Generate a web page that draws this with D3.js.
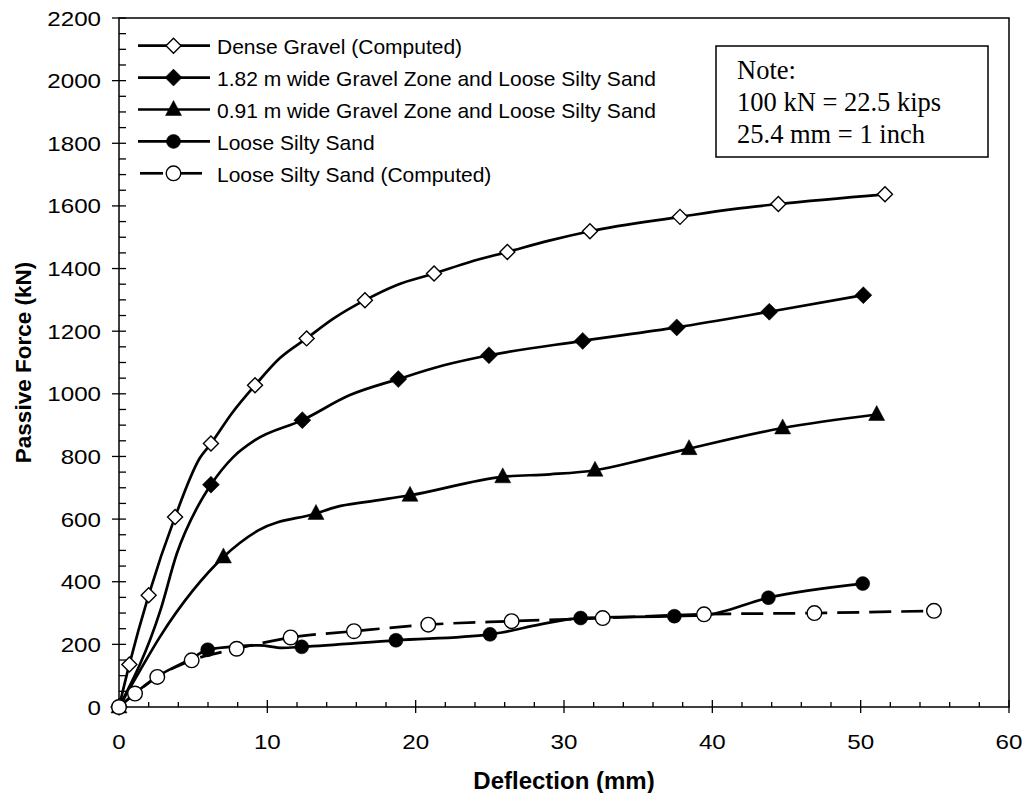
<!DOCTYPE html>
<html>
<head>
<meta charset="utf-8">
<script src="https://cdn.jsdelivr.net/npm/d3@7"></script>
<style>
  html, body { margin: 0; padding: 0; background: #fff; }
  svg { display: block; }
  text { font-family: Arial, "Liberation Sans", sans-serif; fill: #000; }
</style>
</head>
<body>
<svg id="chart" width="1023" height="793"></svg>
<script>
// ---------------- DATA ----------------
// each point: [deflection (mm), passive force (kN), hasMarker (1/0)]
const denseGravel = [
  [0,0,1],[0.7,136,1],[2.0,357,1],[3.78,607,1],[5.45,795,0],[6.2,841,1],
  [7.6,937,0],[9.17,1027,1],[10.85,1114,0],[12.65,1177,1],[14.45,1240,0],[16.58,1299,1],
  [18.7,1347,0],[21.24,1384,1],[23.66,1421,0],[26.18,1453,1],[29.0,1489,0],[31.75,1519,1],
  [37.82,1565,1],[41.4,1590,0],[44.45,1606,1],[51.64,1637,1]
];
const gravel182 = [
  [0,0,1],[2.8,310,0],[3.9,490,0],[5.35,644,0],[6.2,710,1],[7.7,798,0],[9.17,852,0],
  [12.36,916,1],[15.57,996,0],[18.83,1047,1],[21.9,1091,0],[24.94,1123,1],[31.26,1169,1],
  [37.6,1212,1],[43.84,1262,1],[50.18,1315,1]
];
const gravel091 = [
  [0,0,1],[1.42,117,0],[2.76,224,0],[5.0,373,0],[7.04,479,1],[9.39,564,0],[13.28,618,1],
  [14.68,639,0],[16.7,655,0],[19.62,676,1],[25.87,735,1],[29.06,743,0],[32.09,756,1],
  [35.6,793,0],[38.43,825,1],[44.74,891,1],[51.08,934,1]
];
const looseSand = [
  [0,0,1],[2.54,96,0],[4.9,155,0],[5.98,183,1],[7.93,194,0],[9.5,197,0],[11.0,189,0],
  [12.32,192,1],[18.67,213,1],[25.01,232,1],[25.8,238,0],[28.4,264,0],[31.12,284,1],
  [37.44,290,1],[39.4,293,0],[43.78,349,1],[50.14,394,1]
];
const looseSandComputed = [
  [0,0,1],[1.08,43,1],[2.58,96,1],[4.9,149,1],[7.93,186,1],[11.57,222,1],[15.84,242,1],
  [20.85,263,1],[26.47,274,1],[32.61,284,1],[39.44,296,1],[46.88,300,1],[54.94,307,1]
];
const seriesNames = [
  "Dense Gravel (Computed)",
  "1.82 m wide Gravel Zone and Loose Silty Sand",
  "0.91 m wide Gravel Zone and Loose Silty Sand",
  "Loose Silty Sand",
  "Loose Silty Sand (Computed)"
];
const seriesMarkers = ["diamondOpen","diamondFilled","triangle","circleFilled","circleOpen"];
const seriesDashed = [false,false,false,false,true];
const xTicks = [0,10,20,30,40,50,60];
const yTicks = [0,200,400,600,800,1000,1200,1400,1600,1800,2000,2200];
const xTitle = "Deflection (mm)";
const yTitle = "Passive Force (kN)";
const noteLines = ["Note:", "100 kN = 22.5 kips", "25.4 mm = 1 inch"];

const allSeries = [denseGravel, gravel182, gravel091, looseSand, looseSandComputed];

// ---------------- LAYOUT ----------------
const svg = d3.select("#chart");
const L = 119, R = 1009, T = 18, B = 707;
const x = d3.scaleLinear().domain([0,60]).range([L,R]);
const y = d3.scaleLinear().domain([0,2200]).range([B,T]);

function stretch(sel, k) {
  sel.each(function() {
    const len = this.getComputedTextLength();
    d3.select(this).attr("textLength", len * k).attr("lengthAdjust", "spacingAndGlyphs");
  });
}

// marker shapes
function markerPath(type) {
  switch (type) {
    case "diamondOpen": { const s = 7.5; return `M0,${-s}L${s},0L0,${s}L${-s},0Z`; }
    case "diamondFilled": { const s = 8.5; return `M0,${-s}L${s},0L0,${s}L${-s},0Z`; }
    case "triangle": { const w = 8, h = 15; return `M0,${-h*0.6}L${w},${h*0.4}L${-w},${h*0.4}Z`; }
    case "circleFilled": { const r = 7; return `M${r},0A${r},${r} 0 1,1 ${-r},0A${r},${r} 0 1,1 ${r},0Z`; }
    case "circleOpen": { const r = 7.3; return `M${r},0A${r},${r} 0 1,1 ${-r},0A${r},${r} 0 1,1 ${r},0Z`; }
  }
}
function markerStyle(sel, type) {
  const open = type === "diamondOpen" || type === "circleOpen";
  sel.attr("fill", open ? "#fff" : "#000")
     .attr("stroke", "#000")
     .attr("stroke-width", open ? 1.4 : 0.5);
}

// frame
svg.append("rect").attr("x", L).attr("y", T).attr("width", R-L).attr("height", B-T)
  .attr("fill", "none").attr("stroke", "#000").attr("stroke-width", 1.5);

// y ticks
const yMinor = d3.range(0, 2201, 50);
svg.append("g").selectAll("line").data(yMinor).join("line")
  .attr("x1", d => d % 200 === 0 ? L-7 : L).attr("x2", L+7)
  .attr("y1", d => y(d)).attr("y2", d => y(d))
  .attr("stroke", "#000").attr("stroke-width", 1.3);
svg.append("g").selectAll("text").data(yTicks).join("text")
  .attr("x", 101).attr("y", d => y(d)).attr("dy", "0.36em")
  .attr("text-anchor", "end").attr("font-size", 21).text(d => d)
  .call(stretch, 1.15);

// x ticks
const xMinor = d3.range(0, 61, 2);
svg.append("g").selectAll("line").data(xMinor).join("line")
  .attr("x1", d => x(d)).attr("x2", d => x(d))
  .attr("y1", d => d % 10 === 0 ? B+6 : B).attr("y2", d => d % 10 === 0 ? B-7 : B-5)
  .attr("stroke", "#000").attr("stroke-width", 1.3);
svg.append("g").selectAll("text").data(xTicks).join("text")
  .attr("x", d => x(d)).attr("y", 749)
  .attr("text-anchor", "middle").attr("font-size", 21).text(d => d)
  .call(stretch, 1.15);

// titles
svg.append("text").attr("x", (L+R)/2).attr("y", 789).attr("text-anchor", "middle")
  .attr("font-size", 24).attr("font-weight", "bold").text(xTitle);
svg.append("text").attr("transform", `translate(31,${(T+B)/2}) rotate(-90)`)
  .attr("text-anchor", "middle").attr("font-size", 22.5).attr("font-weight", "bold").text(yTitle);

// series
allSeries.forEach((data, i) => {
  const g = svg.append("g");
  const line = d3.line().x(d => x(d[0])).y(d => y(d[1])).curve(d3.curveMonotoneX);
  g.append("path").attr("d", line(data)).attr("fill", "none").attr("stroke", "#000")
    .attr("stroke-width", 2.7).attr("stroke-linejoin", "round")
    .attr("stroke-dasharray", seriesDashed[i] ? "22,10" : null);
  g.selectAll("path.m").data(data.filter(d => d[2])).join("path").attr("class", "m")
    .attr("transform", d => `translate(${x(d[0])},${y(d[1])})`)
    .attr("d", markerPath(seriesMarkers[i]))
    .call(markerStyle, seriesMarkers[i]);
});

// legend
const legend = svg.append("g");
seriesNames.forEach((name, i) => {
  const ry = 45.7 + i * 31.9;
  const g = legend.append("g");
  if (seriesDashed[i]) {
    g.append("line").attr("x1", 140).attr("x2", 163).attr("y1", ry).attr("y2", ry)
      .attr("stroke", "#000").attr("stroke-width", 2.7);
    g.append("line").attr("x1", 177).attr("x2", 202).attr("y1", ry).attr("y2", ry)
      .attr("stroke", "#000").attr("stroke-width", 2.7);
  } else {
    g.append("line").attr("x1", 138).attr("x2", 210).attr("y1", ry).attr("y2", ry)
      .attr("stroke", "#000").attr("stroke-width", 2.7);
  }
  g.append("path").attr("transform", `translate(173.5,${ry})`)
    .attr("d", markerPath(seriesMarkers[i])).call(markerStyle, seriesMarkers[i]);
  g.append("text").attr("x", 217).attr("y", ry + 4.5).attr("dy", "0.18em")
    .attr("font-size", 21).text(name);
});

// note box
svg.append("rect").attr("x", 716).attr("y", 46).attr("width", 272).attr("height", 111)
  .attr("fill", "#fff").attr("stroke", "#000").attr("stroke-width", 1.5);
svg.append("g").selectAll("text").data(noteLines).join("text")
  .attr("x", 737).attr("y", (d, i) => 79 + i * 32)
  .style("font-family", "'Liberation Serif', 'Times New Roman', serif")
  .attr("font-size", 26.5).text(d => d);
</script>
</body>
</html>
